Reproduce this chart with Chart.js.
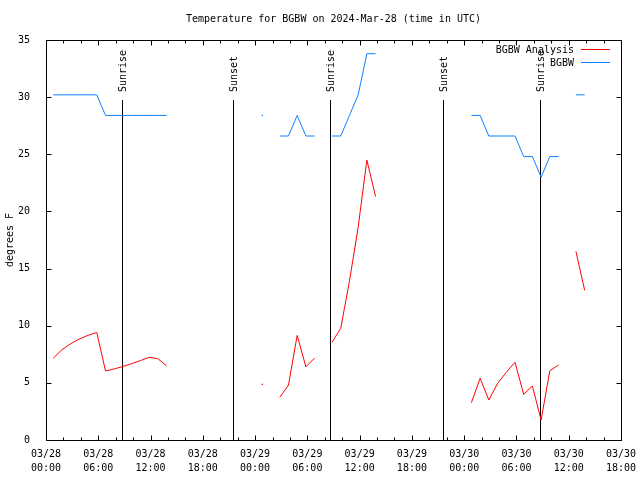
<!DOCTYPE html>
<html><head><meta charset="utf-8">
<script src="https://cdn.jsdelivr.net/npm/chart.js@4"></script>
<style>html,body{margin:0;padding:0;background:#fff}#c{display:block}</style>
</head><body>
<canvas id="c" width="640" height="480"></canvas>
<script>
// hours since 2024-03-28 00:00 UTC
const hours = [0.83,1.83,2.83,3.83,4.83,5.83,6.83,7.83,8.83,9.83,10.83,11.83,12.83,13.83,
  14.83, 24.83, 25.83,
  26.83,27.83,28.83,29.83,30.83, 31.83,
  32.83,33.83,34.83,35.83,36.83,37.83, 38.83,
  48.83,49.83,50.83,51.83,52.83,53.83,54.83,55.83,56.83,57.83,58.83, 59.83,
  60.83,61.83];
const analysisTemps = [7.15,7.9,8.42,8.84,9.16,9.41,6.04,6.22,6.43,6.68,6.95,7.23,7.12,6.5,
  null, 4.87, null,
  3.73,4.8,9.15,6.4,7.17, null,
  8.55,9.77,13.9,18.6,24.5,21.3, null,
  3.27,5.4,3.5,4.95,5.92,6.8,4.0,4.72,1.75,6.06,6.56, null,
  16.5,13.1];
const obsTemps = [30.2,30.2,30.2,30.2,30.2,30.2,28.4,28.4,28.4,28.4,28.4,28.4,28.4,28.4,
  null, 28.4, null,
  26.6,26.6,28.4,26.6,26.6, null,
  26.6,26.6,28.4,30.2,33.8,33.8, null,
  28.4,28.4,26.6,26.6,26.6,26.6,24.8,24.8,23.0,24.8,24.8, null,
  30.2,30.2];
const xTickLabels = [["03/28","00:00"],["03/28","06:00"],["03/28","12:00"],["03/28","18:00"],
  ["03/29","00:00"],["03/29","06:00"],["03/29","12:00"],["03/29","18:00"],
  ["03/30","00:00"],["03/30","06:00"],["03/30","12:00"],["03/30","18:00"]];
const sunEventNames = ["Sunrise","Sunset","Sunrise","Sunset","Sunrise"];
const sunEventHours = [8.76,21.5,32.65,45.54,56.65];
const seriesNames = ["BGBW Analysis","BGBW"];
const seriesColors = ["#ff0000","#0f80ff"];

const FONT = "'DejaVu Sans Mono', 'Liberation Mono', monospace";

function toPoints(vals){ return hours.map((h,i)=>({x:h,y:vals[i]})); }
function isolatedRadius(ctx){
  const d = ctx.dataset.data, i = ctx.dataIndex;
  if (d[i].y === null) return 0;
  const p = d[i-1], n = d[i+1];
  return ((!p || p.y === null) && (!n || n.y === null)) ? 0.9 : 0;
}

const decor = {
  id:'decor',
  beforeDatasetsDraw(chart){
    const c = chart.ctx, a = chart.chartArea, xs = chart.scales.x;
    c.save();
    c.strokeStyle = '#000'; c.lineWidth = 1;
    const topY = a.top + 0.15*(a.bottom - a.top);
    sunEventHours.forEach((h,i)=>{
      const px = Math.round(xs.getPixelForValue(h)) + 0.5;
      c.beginPath(); c.moveTo(px, Math.round(topY)); c.lineTo(px, a.bottom); c.stroke();
      c.save();
      c.translate(px + 0.5, topY - 8);
      c.rotate(-Math.PI/2);
      c.fillStyle = '#000'; c.font = '10px ' + FONT;
      c.textAlign = 'left'; c.textBaseline = 'middle';
      c.fillText(sunEventNames[i], 0, 0);
      c.restore();
    });
    c.restore();
  },
  afterDraw(chart){
    const c = chart.ctx, a = chart.chartArea, xs = chart.scales.x, ys = chart.scales.y;
    c.save();
    c.strokeStyle = '#000'; c.lineWidth = 1;
    const L = Math.round(a.left)+0.5, R = Math.round(a.right)+0.5, T = Math.round(a.top)+0.5, B = Math.round(a.bottom)+0.5;
    c.beginPath();
    for (let h = xs.min; h <= xs.max + 1e-6; h += 2){
      const px = Math.round(xs.getPixelForValue(h)) + 0.5;
      const len = (h % 6 === 0) ? 5 : 3;
      c.moveTo(px, B); c.lineTo(px, B - len);
      c.moveTo(px, T); c.lineTo(px, T + len);
    }
    ys.ticks.forEach(t=>{
      const py = Math.round(ys.getPixelForValue(t.value)) + 0.5;
      c.moveTo(L, py); c.lineTo(L + 5, py);
      c.moveTo(R, py); c.lineTo(R - 5, py);
    });
    c.stroke();
    c.strokeRect(L, T, R - L, B - T);
    c.fillStyle = '#000'; c.font = '10px ' + FONT; c.textBaseline = 'middle';
    c.textAlign = 'center';
    c.fillText('Temperature for BGBW on 2024-Mar-28 (time in UTC)', (a.left + a.right)/2, 19);
    c.textAlign = 'right';
    seriesNames.forEach((n,i)=>{
      const y = 50 + i*13;
      c.fillStyle = '#000';
      c.fillText(n, 574, y);
      c.strokeStyle = seriesColors[i];
      c.beginPath(); c.moveTo(581, y - 0.5); c.lineTo(610, y - 0.5); c.stroke();
    });
    c.restore();
  }
};

new Chart(document.getElementById('c'), {
  type:'line',
  data:{ datasets:[
    {label:seriesNames[0], data:toPoints(analysisTemps), borderColor:seriesColors[0], backgroundColor:seriesColors[0],
     borderWidth:1, pointRadius:isolatedRadius, pointStyle:'rect', pointBorderWidth:0, spanGaps:false, tension:0},
    {label:seriesNames[1], data:toPoints(obsTemps), borderColor:seriesColors[1], backgroundColor:seriesColors[1],
     borderWidth:1, pointRadius:isolatedRadius, pointStyle:'rect', pointBorderWidth:0, spanGaps:false, tension:0}
  ]},
  options:{
    responsive:false, animation:false, devicePixelRatio:1,
    layout:{padding:{top:40, right:19, left:0, bottom:0}},
    plugins:{legend:{display:false}, title:{display:false}, tooltip:{enabled:false}},
    scales:{
      x:{type:'linear', min:0, max:66,
         grid:{display:false}, border:{display:false},
         ticks:{stepSize:6, autoSkip:false, maxRotation:0, minRotation:0, padding:-1, color:'#000',
                font:{family:FONT, size:10, lineHeight:1.4},
                callback:(v)=>xTickLabels[Math.round(v/6)]},
         afterFit:(s)=>{ s.height = 40; }},
      y:{min:0, max:35,
         grid:{display:false}, border:{display:false},
         ticks:{stepSize:5, padding:8, color:'#000', font:{family:FONT, size:10}},
         title:{display:true, text:'degrees F', color:'#000', font:{family:FONT, size:10}, padding:{top:4, bottom:0}},
         afterFit:(s)=>{ s.width = 46; }}
    }
  },
  plugins:[decor]
});
</script>
</body></html>
